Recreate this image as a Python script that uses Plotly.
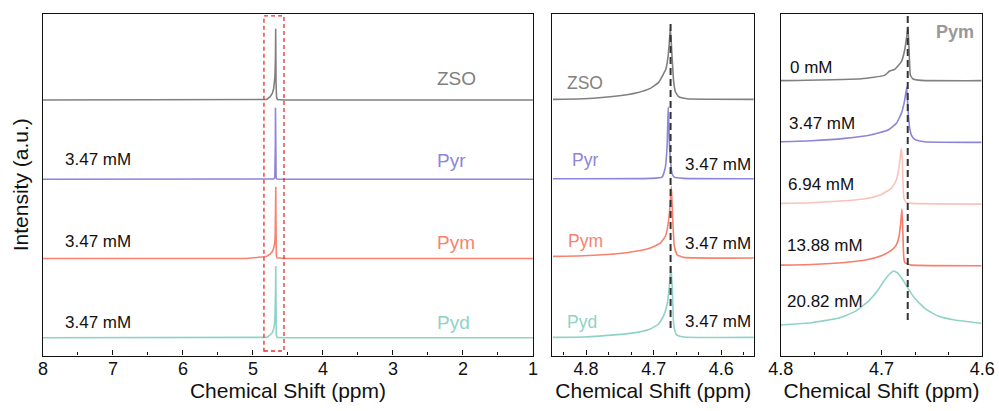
import plotly.graph_objects as go

# ---------------- data ----------------
# Middle panel (4.85 - 4.55 ppm); intensities in units of trace spacing
mid_zso_ppm = [4.849, 4.8035, 4.754, 4.7246, 4.705, 4.6926, 4.6880, 4.6850, 4.6820, 4.6790, 4.6770, 4.6753, 4.6728, 4.6704, 4.6679, 4.663, 4.6506, 4.552]
mid_zso_int = [0.0, 0.008, 0.042, 0.084, 0.139, 0.215, 0.280, 0.330, 0.380, 0.520, 0.700, 0.900, 0.538, 0.223, 0.097, 0.034, 0.008, 0.0]

mid_pyr_ppm = [4.849, 4.705, 4.6876, 4.6827, 4.6800, 4.6785, 4.6765, 4.6753, 4.6728, 4.6694, 4.6556, 4.552]
mid_pyr_int = [0.0, 0.004, 0.021, 0.147, 0.440, 0.904, 0.400, 0.250, 0.063, 0.020, 0.004, 0.0]

mid_pym_ppm = [4.849, 4.8035, 4.754, 4.7246, 4.705, 4.6901, 4.6827, 4.6792, 4.6763, 4.6738, 4.6718, 4.6694, 4.6654, 4.6556, 4.552]
mid_pym_int = [0.021, 0.029, 0.055, 0.088, 0.126, 0.189, 0.273, 0.399, 0.609, 0.904, 0.483, 0.147, 0.042, 0.008, 0.0]

mid_pyd_ppm = [4.849, 4.8035, 4.754, 4.7246, 4.705, 4.6926, 4.6852, 4.6800, 4.6770, 4.6743, 4.6720, 4.6704, 4.6664, 4.6556, 4.552]
mid_pyd_int = [0.0, 0.004, 0.034, 0.063, 0.105, 0.168, 0.273, 0.420, 0.631, 0.904, 0.504, 0.168, 0.034, 0.004, 0.0]

# Left panel: full spectra 8 - 1 ppm (flat baseline outside the zoomed window)
full_lo = 8.0
full_hi = 1.0
pym_tail_start = 5.10

# Right panel (Pym concentration series, 4.8 - 4.6 ppm)
r0_ppm = [4.800, 4.720, 4.6969, 4.6919, 4.6869, 4.6803, 4.677, 4.675, 4.6737, 4.6724, 4.6714, 4.6687, 4.6605, 4.601]
r0_int = [0.0, 0.032, 0.086, 0.157, 0.184, 0.308, 0.497, 0.713, 0.875, 0.389, 0.092, 0.027, 0.005, 0.0]

r1_ppm = [4.800, 4.7696, 4.7365, 4.710, 4.6935, 4.6853, 4.6803, 4.677, 4.675, 4.6737, 4.672, 4.6704, 4.6671, 4.6572, 4.601]
r1_int = [0.011, 0.027, 0.065, 0.124, 0.200, 0.308, 0.470, 0.686, 0.891, 0.524, 0.227, 0.119, 0.049, 0.011, 0.0]

r2_ppm = [4.800, 4.7696, 4.7365, 4.7147, 4.7002, 4.6902, 4.6853, 4.6826, 4.681, 4.6803, 4.6793, 4.6787, 4.6777, 4.6754, 4.6704, 4.601]
r2_int = [0.011, 0.022, 0.054, 0.092, 0.157, 0.254, 0.389, 0.605, 0.821, 0.902, 0.713, 0.335, 0.092, 0.027, 0.011, 0.0]

r3_ppm = [4.800, 4.7696, 4.7365, 4.7147, 4.7002, 4.6902, 4.6853, 4.6826, 4.681, 4.6797, 4.6787, 4.678, 4.677, 4.6737, 4.6704, 4.601]
r3_int = [0.011, 0.022, 0.054, 0.097, 0.162, 0.249, 0.340, 0.475, 0.692, 0.918, 0.475, 0.151, 0.054, 0.027, 0.011, 0.0]

r4_ppm = [4.800, 4.7696, 4.7432, 4.7266, 4.7134, 4.7035, 4.6969, 4.6919, 4.6879, 4.6836, 4.6787, 4.6737, 4.6671, 4.6572, 4.644, 4.6274, 4.601]
r4_int = [0.041, 0.078, 0.149, 0.257, 0.419, 0.608, 0.770, 0.867, 0.916, 0.878, 0.770, 0.635, 0.473, 0.311, 0.186, 0.122, 0.068]

series_names = ["ZSO", "Pyr", "Pym", "Pyd"]
series_offsets = [3, 2, 1, 0]
conc_labels = ["0 mM", "3.47 mM", "6.94 mM", "13.88 mM", "20.82 mM"]
conc_offsets = [4, 3, 2, 1, 0]
add_conc = "3.47 mM"
ref_shift = 4.675
box_x = [4.843, 4.557]

# ---------------- styles ----------------
C_GRAY = "#808080"
C_PYR = "#8c85d8"
C_PYM = "#f8826f"
C_PYD = "#8fd3c6"
C_PINK = "#f8c3ba"
C_SALMON = "#f77e6c"
colors = [C_GRAY, C_PYR, C_PYM, C_PYD]
rcolors = [C_GRAY, C_PYR, C_PINK, C_SALMON, C_PYD]
FONT = "Liberation Sans, Arial, sans-serif"
LW = 1.6

fig = go.Figure()

mid_sets = [(mid_zso_ppm, mid_zso_int), (mid_pyr_ppm, mid_pyr_int),
            (mid_pym_ppm, mid_pym_int), (mid_pyd_ppm, mid_pyd_int)]

# Left panel
for name, off, col, (px, py) in zip(series_names, series_offsets, colors, mid_sets):
    xs = [full_lo] + ([pym_tail_start] if name == "Pym" else []) + px + [full_hi]
    ys = [0.0] + ([0.0] if name == "Pym" else []) + py + [0.0]
    fig.add_trace(go.Scatter(x=xs, y=[v + off for v in ys], mode="lines",
                             line=dict(color=col, width=LW), xaxis="x", yaxis="y",
                             showlegend=False, hoverinfo="skip"))

# Middle panel
for name, off, col, (px, py) in zip(series_names, series_offsets, colors, mid_sets):
    fig.add_trace(go.Scatter(x=px, y=[v + off for v in py], mode="lines",
                             line=dict(color=col, width=LW, shape="spline", smoothing=0.4),
                             xaxis="x2", yaxis="y2", showlegend=False, hoverinfo="skip"))

# Right panel
rsets = [(r0_ppm, r0_int), (r1_ppm, r1_int), (r2_ppm, r2_int), (r3_ppm, r3_int), (r4_ppm, r4_int)]
for off, col, (px, py) in zip(conc_offsets, rcolors, rsets):
    fig.add_trace(go.Scatter(x=px, y=[v + off for v in py], mode="lines",
                             line=dict(color=col, width=LW, shape="spline", smoothing=0.4),
                             xaxis="x3", yaxis="y3", showlegend=False, hoverinfo="skip"))

ydom = [0.135, 0.966]
axis_common = dict(showline=True, linecolor="#111", linewidth=1.3, mirror=True,
                   showgrid=False, zeroline=False, automargin=False)
xcommon = dict(axis_common, ticks="inside", ticklen=5, tickwidth=1, tickcolor="#111",
               ticklabelstandoff=-3,
               tickfont=dict(size=18, color="#111", family=FONT),
               title=dict(text="Chemical Shift (ppm)", font=dict(size=21, color="#111", family=FONT), standoff=2))

fig.update_layout(
    template="none",
    width=999, height=411, margin=dict(l=0, r=0, t=0, b=0, autoexpand=False),
    paper_bgcolor="white", plot_bgcolor="white",
    font=dict(family=FONT, color="#111"),
    xaxis=dict(xcommon, domain=[0.043, 0.5335], range=[8, 1], anchor="y",
               tickmode="linear", tick0=1, dtick=1,
               minor=dict(ticks="inside", ticklen=3, dtick=0.5, tick0=1, tickcolor="#111")),
    yaxis=dict(axis_common, domain=ydom, range=[-0.225, 4.087], anchor="x",
               showticklabels=False, ticks="",
               title=dict(text="Intensity (a.u.)", font=dict(size=21, color="#111", family=FONT), standoff=7)),
    xaxis2=dict(xcommon, domain=[0.5529, 0.7551], range=[4.85, 4.551], anchor="y2",
                tickmode="linear", tick0=4.6, dtick=0.1,
                minor=dict(ticks="inside", ticklen=3, dtick=0.1 / 3, tick0=4.6, tickcolor="#111")),
    yaxis2=dict(axis_common, domain=ydom, range=[-0.229, 4.077], anchor="x2",
                showticklabels=False, ticks=""),
    xaxis3=dict(xcommon, domain=[0.7815, 0.9833], range=[4.8, 4.6], anchor="y3",
                tickmode="linear", tick0=4.6, dtick=0.1,
                minor=dict(ticks="inside", ticklen=3, dtick=0.1 / 3, tick0=4.6, tickcolor="#111")),
    yaxis3=dict(axis_common, domain=ydom, range=[-0.454, 5.081], anchor="x3",
                showticklabels=False, ticks=""),
)

# Shapes: red dashed box, black dashed reference lines
fig.add_shape(type="rect", xref="x", yref="y", x0=box_x[0], x1=box_x[1], y0=-0.168, y1=4.062,
              line=dict(color="#e0302e", width=1.3, dash="4px,3px"))
fig.add_shape(type="line", xref="x2", yref="y2", x0=ref_shift, x1=ref_shift, y0=0.117, y1=3.99,
              line=dict(color="#333", width=2, dash="7px,4px"))
fig.add_shape(type="line", xref="x3", yref="y3", x0=4.674, x1=4.674, y0=0.12, y1=5.081,
              line=dict(color="#333", width=2, dash="7px,4px"))

def label(text, x, y, xref, yref, color, size, anchor="left", bold=False):
    fig.add_annotation(text=f"<b>{text}</b>" if bold else text, x=x, y=y, xref=xref, yref=yref,
                       xanchor=anchor, yanchor="middle", showarrow=False,
                       font=dict(size=size, color=color, family=FONT))

# Left panel labels
left_name_y = [3.27, 2.235, 1.208, 0.186]
for name, col, yy in zip(series_names, colors, left_name_y):
    label(name, 2.40, yy, "x", "y", col, 19)
for yy in [2.244, 1.212, 0.189]:
    label(add_conc, 7.71, yy, "x", "y", "#111", 17)

# Middle panel labels
mid_name_x = [4.832, 4.8243, 4.8296, 4.832]
mid_name_y = [3.21, 2.236, 1.218, 0.197]
for name, col, xx, yy in zip(series_names, colors, mid_name_x, mid_name_y):
    label(name, xx, yy, "x2", "y2", col, 17.5)
for yy in [2.174, 1.189, 0.197]:
    label(add_conc, 4.5535, yy, "x2", "y2", "#111", 17, anchor="right")

# Right panel labels
r_lab_x = [4.7925, 4.794, 4.7947, 4.7957, 4.7957]
r_lab_y = [4.21, 3.31, 2.31, 1.337, 0.418]
for t, xx, yy in zip(conc_labels, r_lab_x, r_lab_y):
    label(t, xx, yy, "x3", "y3", "#111", 17)
label("Pym", 4.6063, 4.794, "x3", "y3", "#999", 18, anchor="right", bold=True)

fig.write_html("out.html")
